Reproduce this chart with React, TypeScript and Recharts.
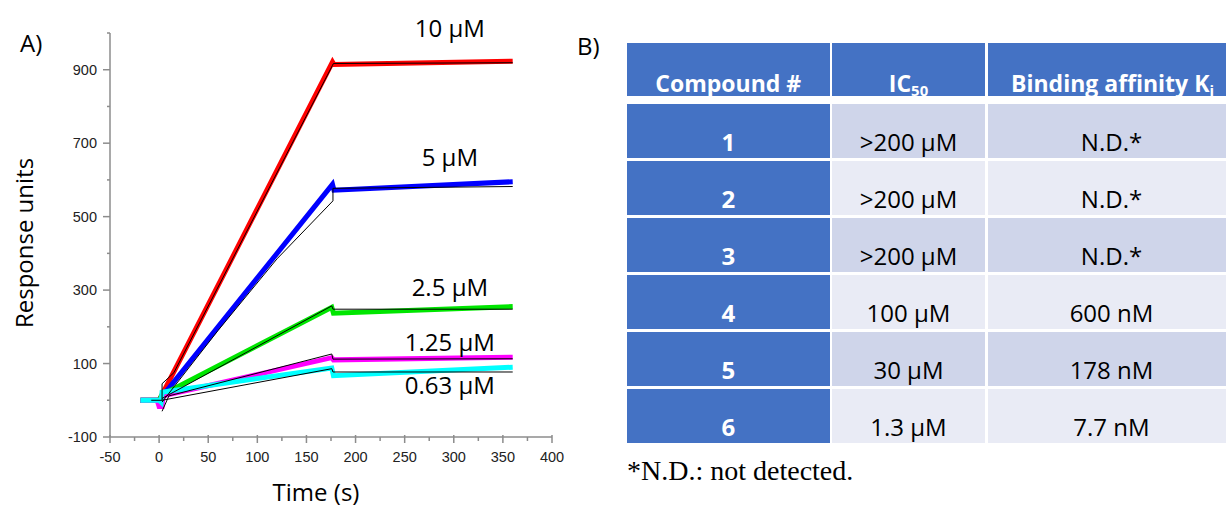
import React from "react";
import { LineChart, Line, XAxis, YAxis, ReferenceDot } from "recharts";

// measured sensorgram traces, [time (s), response units]
const trace10 = [[-19, 0], [0, 0], [3, 15], [176.5, 921], [178, 914], [360, 923]];
const trace5 = [[-19, 0], [0, 0], [3, 10], [176.5, 588], [178, 572], [360, 595]];
const trace2_5 = [[-19, 0], [0, 0], [3, 15], [175.8, 253], [177.5, 237], [360, 255]];
const trace1_25 = [[-19, 0], [-2, 0], [0, -17], [3, -17], [4, 12], [175.8, 116], [177.5, 110], [360, 117]];
const trace0_63 = [[-19, 0], [0, 0], [2, -5], [3, 22], [175.8, 88], [177.5, 67], [360, 90]];

// kinetic fits (thin black)
const fit10 = [[-8, 0], [3, 0], [3, 45], [15, 75], [176.5, 912], [177.5, 917], [360, 919]];
const fit5 = [[3, -5], [60, 190], [120, 385], [177, 543], [177, 577], [360, 582]];
const fit2_5 = [[3, 5], [175.8, 257], [177, 248], [360, 248]];
const fit1_25 = [[3, -30], [10, 12], [175.8, 126], [177, 112], [360, 113]];
const fit0_63 = [[3, 0], [175.8, 86], [177, 77], [360, 77]];

const concLabels = ["10 µM", "5 µM", "2.5 µM", "1.25 µM", "0.63 µM"];
const labelT = [296, 296, 296, 296, 296];
const labelRU = [988, 639, 284, 135, 18];

const xTicks = [-50, -25, 0, 25, 50, 75, 100, 125, 150, 175, 200, 225, 250, 275, 300, 325, 350, 375, 400];
const yTicks = [-100, 0, 100, 200, 300, 400, 500, 600, 700, 800, 900, 1000];

const compounds = ["1", "2", "3", "4", "5", "6"];
const ic50 = [">200 µM", ">200 µM", ">200 µM", "100 µM", "30 µM", "1.3 µM"];
const ki = ["N.D.*", "N.D.*", "N.D.*", "600 nM", "178 nM", "7.7 nM"];

const AXIS = "#8c8c8c";
const SANS = "'Open Sans', sans-serif";
const TICKFONT = "'Liberation Sans', Arial, sans-serif";

const toPts = (arr: number[][]) => arr.map(([t, v]) => ({ t, v }));

const series = [
  { key: "c10", data: toPts(trace10), color: "#ff0000" },
  { key: "c5", data: toPts(trace5), color: "#0000ff" },
  { key: "c25", data: toPts(trace2_5), color: "#00e600" },
  { key: "c125", data: toPts(trace1_25), color: "#ff00ff" },
  { key: "c063", data: toPts(trace0_63), color: "#00ffff" },
];
const fits = [fit10, fit5, fit2_5, fit1_25, fit0_63].map(toPts);

const XTick = ({ x, y, payload }: any) => {
  const major = payload.value % 50 === 0;
  return (
    <g>
      <line x1={x} x2={x} y1={y - (major ? 2 : 0)} y2={y + (major ? 6 : 4)} stroke={AXIS} strokeWidth={1.5} />
      {major && (
        <text x={x} y={y + 25} textAnchor="middle" fontSize={14.5} fontFamily={TICKFONT} fill="#222">
          {payload.value}
        </text>
      )}
    </g>
  );
};

const YTick = ({ x, y, payload }: any) => {
  const major = (payload.value + 100) % 200 === 0;
  return (
    <g>
      <line x1={x - (major ? 7 : 3)} x2={x} y1={y} y2={y} stroke={AXIS} strokeWidth={1.5} />
      {major && (
        <text x={x - 13} y={y + 5} textAnchor="end" fontSize={14.5} fontFamily={TICKFONT} fill="#222">
          {payload.value}
        </text>
      )}
    </g>
  );
};

const BLUE = "#4472c4";
const ROW_A = "#cfd5ea";
const ROW_B = "#e9ebf5";
const colX = [627, 832, 987.5];
const colW = [202.5, 153, 238];

function Cell({ x, y, w, h, bg, children, bold, white, header }: any) {
  return (
    <div
      style={{
        position: "absolute",
        left: x,
        top: y,
        width: w,
        height: h,
        background: bg,
        overflow: header ? "visible" : "hidden",
        display: "flex",
        alignItems: "flex-end",
        justifyContent: "center",
        fontFamily: SANS,
        fontSize: header ? 23 : 24,
        lineHeight: header ? 1.15 : "normal",
        fontWeight: bold ? 700 : 400,
        color: white ? "#fff" : "#000",
        whiteSpace: "nowrap",
      }}
    >
      <span>{children}</span>
    </div>
  );
}

// subscripts hang below the header row into the white gap, as in the source
const Sub = ({ children }: any) => (
  <span style={{ fontSize: "0.65em", position: "relative", top: "0.3em" }}>{children}</span>
);

function AffinityTable() {
  const rowTop = (i: number) => 103.5 + i * 57;
  return (
    <>
      <Cell x={colX[0]} y={43} w={colW[0]} h={53} bg={BLUE} bold white header>
        Compound #
      </Cell>
      <Cell x={colX[1]} y={43} w={colW[1]} h={53} bg={BLUE} bold white header>
        IC<Sub>50</Sub>
      </Cell>
      <Cell x={colX[2]} y={43} w={colW[2]} h={53} bg={BLUE} bold white header>
        <span style={{ paddingLeft: 12 }}>
          Binding affinity K<Sub>i</Sub>
        </span>
      </Cell>
      {compounds.map((c, i) => {
        const bg = i % 2 === 0 ? ROW_A : ROW_B;
        return (
          <React.Fragment key={c}>
            <Cell x={colX[0]} y={rowTop(i)} w={colW[0]} h={54.5} bg={BLUE} bold white>
              {c}
            </Cell>
            <Cell x={colX[1]} y={rowTop(i)} w={colW[1]} h={54.5} bg={bg}>
              {ic50[i]}
            </Cell>
            <Cell x={colX[2]} y={rowTop(i)} w={colW[2]} h={54.5} bg={bg}>
              <span style={{ paddingLeft: 10 }}>{ki[i]}</span>
            </Cell>
          </React.Fragment>
        );
      })}
    </>
  );
}

export default function App() {
  return (
    <div style={{ position: "absolute", left: 0, top: 0, width: 1227, height: 508, background: "#fff", overflow: "hidden" }}>
      <div style={{ position: "absolute", left: 0, top: 0 }}>
        <LineChart width={600} height={508} margin={{ top: 33, right: 48, bottom: 41, left: 50 }}>
          <XAxis
            dataKey="t"
            type="number"
            domain={[-50, 400]}
            ticks={xTicks}
            interval={0}
            allowDataOverflow
            height={30}
            tickSize={0}
            tickMargin={0}
            tickLine={false}
            axisLine={{ stroke: AXIS, strokeWidth: 1.5 }}
            tick={<XTick />}
          />
          <YAxis
            type="number"
            domain={[-100, 1000]}
            ticks={yTicks}
            interval={0}
            allowDataOverflow
            width={60}
            tickSize={0}
            tickMargin={0}
            tickLine={false}
            axisLine={{ stroke: AXIS, strokeWidth: 1.5 }}
            tick={<YTick />}
          />
          {series.map((s) => (
            <Line
              key={s.key}
              data={s.data}
              dataKey="v"
              type="linear"
              stroke={s.color}
              strokeWidth={5}
              dot={false}
              activeDot={false}
              isAnimationActive={false}
            />
          ))}
          {fits.map((f, i) => (
            <Line
              key={"fit" + i}
              data={f}
              dataKey="v"
              type="linear"
              stroke="#000"
              strokeWidth={1}
              dot={false}
              activeDot={false}
              isAnimationActive={false}
            />
          ))}
          {concLabels.map((txt, i) => (
            <ReferenceDot
              key={txt}
              x={labelT[i]}
              y={labelRU[i]}
              r={0}
              ifOverflow="visible"
              shape={(p: any) => (
                <text x={p.cx} y={p.cy} textAnchor="middle" fontSize={24} fontFamily={SANS} fill="#000">
                  {txt}
                </text>
              )}
            />
          ))}
        </LineChart>
      </div>

      <AffinityTable />

      <svg width={1227} height={508} style={{ position: "absolute", left: 0, top: 0, pointerEvents: "none" }}>
        <text x={20} y={52} fontSize={24} fontFamily={SANS} fill="#000">A)</text>
        <text x={577} y={55} fontSize={24} fontFamily={SANS} fill="#000">B)</text>
        <text x={33} y={243} transform="rotate(-90 33 243)" textAnchor="middle" fontSize={24} fontFamily={SANS} fill="#000">
          Response units
        </text>
        <text x={316} y={501} textAnchor="middle" fontSize={24} fontFamily={SANS} fill="#000">
          Time (s)
        </text>
        <text x={627} y={480} fontSize={28} fontFamily="'Liberation Serif', 'Times New Roman', serif" fill="#000">
          *N.D.: not detected.
        </text>
      </svg>
    </div>
  );
}
